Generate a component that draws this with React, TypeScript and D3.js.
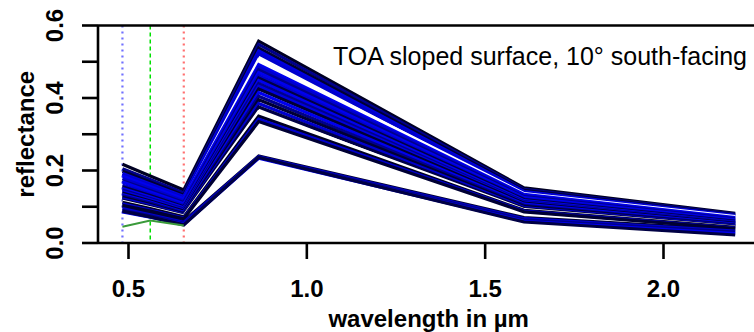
import React from "react";
import * as d3 from "d3";

// Band centre wavelengths (µm)
const wavelengths = [0.483, 0.561, 0.655, 0.865, 1.609, 2.201];

// Reflectance per band, one entry per spectrum
const reflBlue = [0.217, 0.205, 0.198, 0.192, 0.188, 0.180, 0.185, 0.178, 0.172, 0.168, 0.160, 0.155, 0.150, 0.146, 0.142, 0.138, 0.134, 0.130, 0.126, 0.122, 0.118, 0.115, 0.112, 0.108, 0.104, 0.100, 0.095, 0.090, 0.086, 0.088];
const reflGreen = [0.185, 0.175, 0.168, 0.163, 0.160, 0.152, 0.156, 0.150, 0.145, 0.141, 0.135, 0.131, 0.127, 0.123, 0.120, 0.116, 0.113, 0.110, 0.106, 0.103, 0.100, 0.097, 0.095, 0.091, 0.088, 0.082, 0.078, 0.075, 0.071, 0.072];
const reflRed = [0.146, 0.138, 0.132, 0.128, 0.125, 0.118, 0.122, 0.116, 0.112, 0.108, 0.104, 0.100, 0.097, 0.094, 0.091, 0.088, 0.085, 0.083, 0.080, 0.078, 0.076, 0.074, 0.072, 0.069, 0.067, 0.060, 0.057, 0.054, 0.052, 0.050];
const reflNIR = [0.557, 0.548, 0.538, 0.530, 0.522, 0.506, 0.492, 0.485, 0.478, 0.470, 0.462, 0.455, 0.448, 0.440, 0.432, 0.425, 0.415, 0.405, 0.395, 0.385, 0.375, 0.362, 0.350, 0.342, 0.335, 0.240, 0.238, 0.236, 0.234, 0.236];
const reflSWIR1 = [0.152, 0.148, 0.145, 0.142, 0.140, 0.136, 0.134, 0.131, 0.128, 0.125, 0.122, 0.120, 0.117, 0.114, 0.112, 0.110, 0.107, 0.104, 0.101, 0.098, 0.095, 0.092, 0.090, 0.088, 0.086, 0.070, 0.067, 0.064, 0.060, 0.058];
const reflSWIR2 = [0.082, 0.080, 0.078, 0.076, 0.075, 0.073, 0.070, 0.068, 0.066, 0.064, 0.062, 0.060, 0.058, 0.056, 0.055, 0.054, 0.052, 0.050, 0.048, 0.047, 0.045, 0.044, 0.043, 0.041, 0.040, 0.036, 0.033, 0.030, 0.026, 0.022];
const lineColors = ["#000022", "#00008b", "#000033", "#0000e0", "#0000cd", "#ffffff", "#0000ee", "#0000cc", "#00008b", "#0000ee", "#0000cc", "#000044", "#0000ee", "#00008b", "#0000dd", "#000033", "#0000ee", "#00008b", "#000033", "#0000cc", "#000044", "#ffffff", "#000022", "#0000cc", "#000033", "#000033", "#0000cc", "#00008b", "#0000ee", "#000044"];

// Vegetation spectrum (visible bands only)
const vegWavelengths = [0.483, 0.561, 0.655];
const vegRefl = [0.045, 0.062, 0.048];

const bandMarkers = [0.483, 0.561, 0.655];
const bandMarkerColors = ["#7070ff", "#00e000", "#ff7070"];

const xTicks = [0.5, 1.0, 1.5, 2.0];
const yTicks = [0, 0.1, 0.2, 0.3, 0.4, 0.5, 0.6];
const yLabelTicks = [0, 0.2, 0.4, 0.6];

const title = "TOA sloped surface, 10° south-facing";
const xTitle = "wavelength in µm";
const yTitle = "reflectance";

export default function App() {
  const W = 754, H = 332;
  const left = 98, top = 25.5, bottom = 243;
  const x = d3.scaleLinear().domain([0.5, 2.0]).range([128.5, 663.5]);
  const y = d3.scaleLinear().domain([0, 0.6]).range([bottom, top]);
  const right = x(2.2688);
  const line = d3.line<[number, number]>().x((d) => x(d[0])).y((d) => y(d[1]));

  const spectra = reflBlue.map((_, i) => [
    reflBlue[i], reflGreen[i], reflRed[i], reflNIR[i], reflSWIR1[i], reflSWIR2[i],
  ]);
  const font = "'Liberation Sans', Arial, Helvetica, sans-serif";

  return (
    <svg width={W} height={H} style={{ position: "fixed", left: 0, top: 0, background: "#fff" }} fontFamily={font}>
      <rect x={0} y={0} width={W} height={H} fill="#fff" />
      {/* band markers */}
      {bandMarkers.map((w, i) => (
        <line key={"bm" + i} x1={x(w)} x2={x(w)} y1={top} y2={bottom}
          stroke={bandMarkerColors[i]} strokeWidth={i === 1 ? 1.5 : 2.2}
          strokeDasharray={i === 1 ? "4,3" : "2,4"} />
      ))}
      {/* spectra */}
      <g clipPath="url(#clip)">
        {spectra.map((s, i) => (
          <path key={"s" + i} d={line(s.map((v, j) => [wavelengths[j], v] as [number, number])) || ""}
            fill="none" stroke={lineColors[i]} strokeWidth={3.2} strokeLinejoin="miter" />
        ))}
        <path d={line(vegRefl.map((v, j) => [vegWavelengths[j], v] as [number, number])) || ""}
          fill="none" stroke="#3a9a3a" strokeWidth={2} />
      </g>
      {/* box */}
      <line x1={left} x2={right} y1={top} y2={top} stroke="#000" strokeWidth={2.6} />
      <line x1={left} x2={right} y1={bottom} y2={bottom} stroke="#000" strokeWidth={2.6} />
      <line x1={left} x2={left} y1={top} y2={bottom} stroke="#000" strokeWidth={2.6} />
      {/* y axis */}
      {yTicks.map((t) => (
        <line key={"yt" + t} x1={left - 16} x2={left} y1={y(t)} y2={y(t)} stroke="#000" strokeWidth={2.6} />
      ))}
      {yLabelTicks.map((t) => (
        <text key={"yl" + t} transform={`translate(63,${y(t)}) rotate(-90)`} textAnchor="middle"
          fontSize={24} fontWeight="bold">{d3.format(".1f")(t)}</text>
      ))}
      <text transform={`translate(33.5,${(top + bottom) / 2}) rotate(-90)`} textAnchor="middle"
        fontSize={24} fontWeight="bold">{yTitle}</text>
      {/* x axis */}
      {xTicks.map((t) => (
        <line key={"xt" + t} x1={x(t)} x2={x(t)} y1={bottom} y2={bottom + 16} stroke="#000" strokeWidth={2.6} />
      ))}
      {xTicks.map((t) => (
        <text key={"xl" + t} x={x(t)} y={297} textAnchor="middle" fontSize={24} fontWeight="bold">
          {d3.format(".1f")(t)}
        </text>
      ))}
      <text x={(left + right) / 2} y={327} textAnchor="middle" fontSize={24} fontWeight="bold">{xTitle}</text>
      {/* legend text */}
      <text x={747} y={65} textAnchor="end" fontSize={25}>{title}</text>
      <defs>
        <clipPath id="clip">
          <rect x={left} y={top} width={right - left} height={bottom - top} />
        </clipPath>
      </defs>
    </svg>
  );
}
